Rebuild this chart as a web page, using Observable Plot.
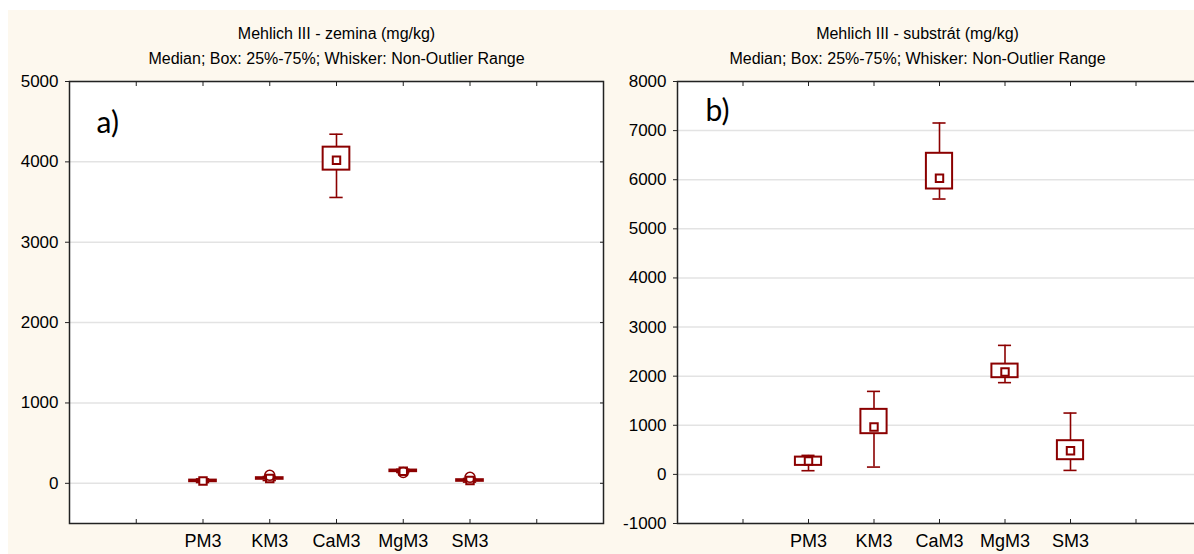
<!DOCTYPE html>
<html><head><meta charset="utf-8">
<script src="https://cdn.jsdelivr.net/npm/d3@7"></script>
<script src="https://cdn.jsdelivr.net/npm/@observablehq/plot@0.6"></script>
<style>
html,body{margin:0;padding:0;background:#fff;overflow:hidden;width:1194px;height:554px;}
#bg{position:absolute;left:8px;top:10px;width:1186px;height:544px;background:#fdf8ee;}
#left{position:absolute;left:8px;top:10px;width:610px;height:544px;}
#right{position:absolute;left:610px;top:10px;width:584px;height:544px;overflow:hidden;}
svg{max-width:none !important;}
</style></head><body>
<div id="bg"></div><div id="left"></div><div id="right"></div>
<script>
// ---- data ----
const categories = ["PM3", "KM3", "CaM3", "MgM3", "SM3"];
const tickSlots = [1, 2, 3, 4, 5, 6, 7];
const subtitle = "Median; Box: 25%-75%; Whisker: Non-Outlier Range";

const soilTitle = "Mehlich III - zemina (mg/kg)";
const soilMin    = [10,   35, 3557, 135, 15];
const soilQ1     = [20,   50, 3897, 145, 25];
const soilMedian = [30,   60, 4021, 150, 35];
const soilQ3     = [40,   70, 4183, 165, 45];
const soilMax    = [55,   85, 4344, 175, 60];
const soilOutlierCats = ["KM3", "MgM3", "SM3"];
const soilOutlierVals = [100, 135, 75];
const soilTicks = [0, 1000, 2000, 3000, 4000, 5000];

const subTitle = "Mehlich III - substrát (mg/kg)";
const subMin    = [75,  149, 5607, 1868,   81];
const subQ1     = [183, 829, 5811, 1969,  299];
const subMedian = [271, 963, 6029, 2084,  483];
const subQ3     = [352, 1324, 6538, 2246, 686];
const subMax    = [387, 1690, 7155, 2627, 1249];
const subTicks = [-1000, 0, 1000, 2000, 3000, 4000, 5000, 6000, 7000, 8000];

// ---- build ----
const RED = "#8b0000";
function stats(mn, q1, md, q3, mx) {
  return categories.map((c, i) => ({cat: c, pos: i + 2, min: mn[i], q1: q1[i], median: md[i], q3: q3[i], max: mx[i]}));
}
function panel({rows, outliers, yDomain, yTicks, width, marginLeft, marginRight, title, label, labelDx, labelDy, titleDx}) {
  return Plot.plot({
    width, height: 544, marginLeft, marginRight, marginTop: 71, marginBottom: 31,
    style: {background: "transparent", fontFamily: "'Liberation Sans', Arial, sans-serif", fontSize: "17px", color: "#000", maxWidth: "none"},
    x: {domain: [0, 8], label: null},
    y: {domain: yDomain, label: null},
    marks: [
      Plot.frame({fill: "white", stroke: null}),
      Plot.gridY(yTicks, {stroke: "#e3e3e3", strokeOpacity: 1, strokeWidth: 1.5}),
      Plot.axisY(yTicks, {anchor: "left", label: null, tickSize: 4, tickPadding: 7, tickFormat: d => String(d), stroke: "#222"}),
      Plot.axisY(yTicks, {anchor: "right", label: null, tickSize: 4, dx: -4, tickFormat: () => "", stroke: "#222"}),
      Plot.axisX(tickSlots, {anchor: "bottom", label: null, tickSize: 4, dy: -4, tickFormat: () => "", stroke: "#222"}),
      Plot.axisX(tickSlots, {anchor: "top", label: null, tickSize: 4, dy: 4, tickFormat: () => "", stroke: "#222"}),
      Plot.axisX(rows.map(d => d.pos), {anchor: "bottom", label: null, tickSize: 0, tickPadding: 11, fontSize: 18, tickFormat: d => categories[d - 2]}),
      Plot.ruleX(rows, {x: "pos", y1: "min", y2: "q1", stroke: RED, strokeWidth: 1.6}),
      Plot.ruleX(rows, {x: "pos", y1: "q3", y2: "max", stroke: RED, strokeWidth: 1.6}),
      Plot.ruleY(rows, {y: "min", x1: d => d.pos - 0.1, x2: d => d.pos + 0.1, stroke: RED, strokeWidth: 1.6}),
      Plot.ruleY(rows, {y: "max", x1: d => d.pos - 0.1, x2: d => d.pos + 0.1, stroke: RED, strokeWidth: 1.6}),
      Plot.rect(rows, {x1: d => d.pos - 0.2, x2: d => d.pos + 0.2, y1: "q1", y2: "q3", fill: "white", stroke: RED, strokeWidth: 2}),
      Plot.dot(rows, {x: "pos", y: "median", symbol: "square", r: 4.2, stroke: RED, strokeWidth: 2, fill: "white"}),
      Plot.dot(outliers, {x: "pos", y: "value", r: 5, stroke: RED, strokeWidth: 1.6}),
      Plot.frame({stroke: "#222", strokeWidth: 1.5}),
      Plot.text([title], {frameAnchor: "top", dx: titleDx, dy: -48, fontSize: 16, lineAnchor: "middle"}),
      Plot.text([subtitle], {frameAnchor: "top", dx: titleDx, dy: -23, fontSize: 16, lineAnchor: "middle"}),
      Plot.text([label], {frameAnchor: "top-left", dx: labelDx, dy: labelDy, textAnchor: "start", lineAnchor: "top", fontSize: 30, fontFamily: "Lato, 'Open Sans', sans-serif"})
    ]
  });
}

const soilRows = stats(soilMin, soilQ1, soilMedian, soilQ3, soilMax);
const soilOut = soilOutlierCats.map((c, i) => ({pos: categories.indexOf(c) + 2, value: soilOutlierVals[i]}));
document.getElementById("left").append(panel({
  rows: soilRows, outliers: soilOut, yDomain: [-500, 5000], yTicks: soilTicks,
  width: 610, marginLeft: 61, marginRight: 15, title: soilTitle, label: "a)", labelDx: 27, labelDy: 30, titleDx: 0
}));
const subRows = stats(subMin, subQ1, subMedian, subQ3, subMax);
document.getElementById("right").append(panel({
  rows: subRows, outliers: [], yDomain: [-1000, 8000], yTicks: subTicks,
  width: 600, marginLeft: 67, marginRight: 9, title: subTitle, label: "b)", labelDx: 28, labelDy: 18, titleDx: -22
}));
</script>
</body></html>
